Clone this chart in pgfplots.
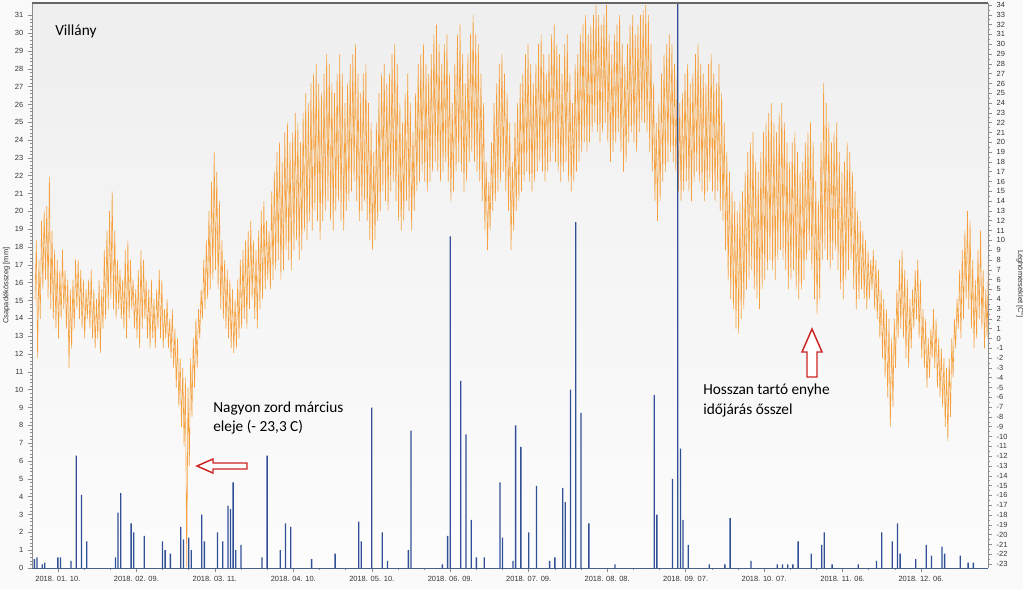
\documentclass[border=0pt]{standalone}
\usepackage{pgfplots}
\pgfplotsset{compat=1.18}
\usepackage{pgfplotstable}
\usepackage{fontspec}
\setmainfont{Liberation Sans}
\newfontfamily\annfont{Carlito}
\definecolor{tempc}{RGB}{245,160,60}
\definecolor{rainc}{RGB}{50,80,150}
\definecolor{axc}{RGB}{140,140,140}
\definecolor{arrc}{RGB}{205,35,35}

% air temperature: daily minimum and maximum, alternating (lo, hi) for days 0..364
\pgfplotstableread[row sep=\\]{t\\
4\\10\\ -2\\8\\ 2\\12\\ 5\\13\\ 6\\13.5\\ 4\\16.5\\ 3\\11\\ 2\\9\\ 1\\8\\ 0\\7\\
2\\9\\ 3\\7\\ 1\\6\\ -3\\5\\ -1\\6\\ 1\\8\\ 3\\8\\ 2\\7\\ 1\\6\\ 0\\5\\
2\\6\\ 1\\7\\ 0\\5\\ -1\\4\\ 0\\6\\ -1.5\\5\\ 1\\9\\ 2\\11\\ 3\\13\\ 4\\15\\
3\\11\\ 2\\8\\ 3\\7\\ 2\\6\\ 1\\9\\ 0\\10\\ 2\\8\\ 3\\6\\ 1\\5\\ 0\\7\\
-1\\9\\ 1\\8\\ 2\\6\\ 0\\5\\ -1\\6\\ 0\\4\\ -1\\5\\ 1\\7\\ 0\\6\\ -1\\3\\
0\\4\\ -1\\2\\ -2\\3\\ -3\\1\\ -5\\0\\ -7\\-2\\ -9\\-3\\ -11\\-4\\ -23.3\\-5\\ -13\\-2\\
-8\\0\\ -5\\2\\ -3\\3\\ 0\\5\\ 2\\8\\ 3\\10\\ 4\\13\\ 5\\16\\ 6\\19\\ 7\\17\\
5\\14\\ 3\\10\\ 2\\8\\ 1\\7\\ 0\\6\\ -1\\5\\ -1.5\\4\\ -1\\6\\ 0\\8\\ 1\\9\\
2\\10\\ 1\\11\\ 3\\12\\ 4\\10\\ 2\\9\\ 1\\11\\ 3\\13\\ 4\\14\\ 5\\12\\ 6\\11\\
5\\15\\ 6\\17\\ 7\\19\\ 8\\20\\ 6\\18\\ 7\\21\\ 9\\22\\ 8\\20\\ 7\\21\\ 9\\23\\
10\\22\\ 8\\20\\ 9\\23\\ 11\\25\\ 10\\24\\ 12\\26\\ 11\\27\\ 13\\28\\ 12\\26\\ 10\\25\\
12\\27\\ 13\\29\\ 14\\28\\ 12\\26\\ 11\\25\\ 13\\27\\ 14\\29\\ 12\\27\\ 11\\24\\ 13\\26\\
14\\28\\ 15\\29\\ 16\\30\\ 14\\27\\ 12\\25\\ 13\\27\\ 14\\28\\ 12\\24\\ 10\\22\\ 9\\19\\
10\\22\\ 12\\25\\ 13\\27\\ 15\\28\\ 14\\26\\ 13\\27\\ 15\\29\\ 16\\30\\ 14\\28\\ 12\\24\\
11\\22\\ 12\\25\\ 14\\27\\ 13\\24\\ 11\\21\\ 13\\25\\ 15\\28\\ 16\\29\\ 17\\30\\ 16\\28\\
15\\27\\ 16\\29\\ 17\\31\\ 18\\32\\ 17\\30\\ 16\\28\\ 17\\30\\ 18\\31\\ 16\\27\\ 14\\24\\
15\\28\\ 17\\31\\ 18\\32\\ 17\\29\\ 15\\26\\ 16\\29\\ 18\\31\\ 19\\33\\ 18\\31\\ 17\\30\\
16\\27\\ 14\\24\\ 11\\18\\ 9\\16\\ 11\\20\\ 13\\24\\ 14\\26\\ 15\\28\\ 16\\29\\ 17\\27\\
15\\25\\ 13\\22\\ 9\\18\\ 11\\22\\ 13\\24\\ 14\\26\\ 15\\27\\ 16\\29\\ 17\\30\\ 16\\28\\
15\\26\\ 16\\28\\ 17\\30\\ 18\\31\\ 17\\29\\ 16\\27\\ 17\\29\\ 18\\31\\ 19\\32\\ 18\\30\\
17\\29\\ 16\\27\\ 17\\30\\ 18\\31\\ 16\\27\\ 15\\24\\ 16\\28\\ 17\\29\\ 18\\31\\ 19\\32\\
20\\33\\ 19\\31\\ 20\\32\\ 21\\33\\ 22\\34\\ 21\\33\\ 20\\32\\ 21\\33\\ 22\\34\\ 20\\31\\
18\\29\\ 19\\31\\ 20\\32\\ 21\\33\\ 19\\30\\ 17\\28\\ 18\\30\\ 20\\32\\ 21\\33\\ 20\\31\\
19\\32\\ 21\\33\\ 22\\33.5\\ 22\\34\\ 21\\33\\ 19\\30\\ 17\\26\\ 14\\22\\ 12\\24\\ 14\\27\\
16\\29\\ 17\\30\\ 18\\31\\ 19\\30\\ 18\\28\\ 17\\27\\ 15\\24\\ 14\\25\\ 15\\27\\ 16\\28\\
15\\26\\ 14\\27\\ 16\\29\\ 17\\30\\ 16\\28\\ 15\\27\\ 14\\26\\ 15\\28\\ 16\\29\\ 15\\27\\
14\\26\\ 15\\28\\ 13\\25\\ 12\\22\\ 9\\19\\ 6\\17\\ 4\\15\\ 3\\14\\ 1\\13\\ 0.5\\14\\
2\\15\\ 3\\17\\ 5\\19\\ 6\\20\\ 7\\21\\ 5\\18\\ 4\\17\\ 3\\19\\ 5\\21\\ 6\\22\\
7\\23\\ 8\\24\\ 7\\22\\ 6\\21\\ 8\\23\\ 9\\24\\ 8\\22\\ 7\\20\\ 5\\18\\ 6\\20\\
7\\21\\ 5\\19\\ 4\\17\\ 5\\18\\ 6\\20\\ 8\\21\\ 9\\22\\ 7\\20\\ 4\\16\\ 2.5\\14\\
4\\20\\ 8\\26\\ 9\\24\\ 8\\22\\ 7\\20\\ 8\\21\\ 9\\22\\ 7\\19\\ 5\\17\\ 4\\18\\
6\\20\\ 7\\19\\ 8\\17\\ 5\\15\\ 3\\13\\ 4\\12\\ 5\\11\\ 4\\10\\ 3\\9\\ 4\\8\\
5\\9\\ 3\\8\\ 2\\7\\ 0\\5\\ -2\\4\\ -4\\3\\ -6\\2\\ -9\\0\\ -7\\2\\ -3\\5\\
0\\8\\ 1\\9\\ 0\\7\\ -2\\6\\ -3\\4\\ -1\\5\\ 1\\7\\ 2\\8\\ 0\\6\\ -2\\3\\
-3\\2\\ -5\\0\\ -4\\1\\ -2\\3\\ -3\\2\\ -5\\0\\ -6\\-1\\ -7\\-2\\ -9\\-3\\ -10.5\\-2\\
-8\\0\\ -4\\2\\ -1\\4\\ 1\\7\\ 0\\9\\ 2\\11\\ 4\\13\\ 3\\12\\ 1\\8\\ -1\\6\\
0\\9\\ 2\\11\\ 1\\7\\ -1\\5\\ 0\\8\\
}\temps

% daily precipitation sums [mm] (days with rain only)
\pgfplotstableread{
d p
0 0.5
1 0.6
3 0.2
4 0.3
9 0.6
10 0.6
14 0.4
16 6.3
18 4.1
20 1.5
31 0.6
32 3.1
33 4.2
37 2.5
38 2.0
42 1.8
49 1.5
50 1.0
52 0.8
56 2.3
57 1.6
59 1.7
60 1.0
64 3.0
65 1.5
70 2.0
72 1.5
74 3.5
75 3.3
76 4.8
77 1.0
79 1.3
87 0.6
89 6.3
94 1.0
96 2.5
98 2.3
106 0.5
115 0.8
124 2.6
125 1.5
129 9.0
133 2.0
135 0.4
143 1.0
144 7.7
156 0.2
158 1.8
159 18.6
163 10.5
165 7.5
167 2.7
169 0.6
172 0.6
178 4.8
179 1.7
183 0.4
184 8.0
186 6.8
189 2.0
192 4.6
197 0.4
199 0.6
202 4.5
203 3.7
205 10.0
207 19.4
209 8.7
212 2.5
222 0.2
237 9.7
238 3.0
244 5.0
246 32
247 6.7
248 2.7
250 1.3
258 0.2
264 0.2
266 2.8
274 0.4
284 0.2
286 0.2
288 0.2
290 0.2
292 1.5
297 0.8
301 1.3
302 2.0
305 0.2
315 0.2
322 0.4
324 2.0
328 1.5
330 2.5
331 0.8
337 0.5
341 1.3
343 0.7
347 1.2
348 0.8
354 0.7
357 0.3
359 0.3
}\rain

\pgfplotsset{
  common/.style={
    at={(0,0)}, anchor=south west,
    scale only axis, width=717pt, height=423.75pt,
    xmin=-0.9, xmax=364.6,
    tick align=outside,
    major tick length=3pt, minor tick length=1.5pt,
    tick style={axc, line width=0.4pt},
    axis line style={axc, line width=0.6pt},
    every tick label/.append style={font=\fontsize{5.6}{6}\selectfont, text=black!80},
    label style={font=\fontsize{5.6}{6}\selectfont, text=black!80},
    /pgf/number format/assume math mode=true,
  }
}

\begin{document}
\begin{tikzpicture}
\path[use as bounding box, fill=gray!4] (-24pt,-15.75pt) rectangle (743.25pt,426pt);

% temperature axis (right)
\begin{axis}[common,
  ymin=-23.4, ymax=34.2,
  axis x line=none,
  axis y line*=right,
  ytick={-23,...,34},
  minor y tick num=1,
  ylabel={Léghőmérséklet [C°]},
  ylabel style={rotate=180, xshift=-1pt},
  axis background/.style={shade, top color=gray!13, bottom color=gray!2},
]
\addplot[tempc, line width=0.45pt] table[x expr=\coordindex/2+0.25, y=t] {\temps};
\end{axis}

% precipitation axis (left)
\begin{axis}[common,
  ymin=0, ymax=31.69,
  axis y line*=left,
  axis x line*=bottom,
  ytick={0,...,31},
  minor y tick num=4,
  xtick={9,39,69,99,129,159,189,219,249,279,309,339},
  xticklabels={2018. 01. 10.,2018. 02. 09.,2018. 03. 11.,2018. 04. 10.,2018. 05. 10.,2018. 06. 09.,2018. 07. 09.,2018. 08. 08.,2018. 09. 07.,2018. 10. 07.,2018. 11. 06.,2018. 12. 06.},
  minor x tick num=2,
  ylabel={Csapadékösszeg [mm]},
  ylabel style={yshift=-3pt},
  x axis line style={rainc!70!gray},
]
\addplot[ybar, bar width=0.5, fill=rainc, draw=none] table[x=d, y=p] {\rain};
\end{axis}

\draw[black!60, line width=1pt] (0,423.75pt) -- (717pt,423.75pt);

% annotations
\node[anchor=base west, inner sep=0, font=\annfont\fontsize{11.5}{14}\selectfont] at (17.25pt,399pt) {Villány};
\node[anchor=base west, inner sep=0, font=\annfont\fontsize{11.5}{14}\selectfont] at (135.75pt,116.8pt) {Nagyon zord március};
\node[anchor=base west, inner sep=0, font=\annfont\fontsize{11.5}{14}\selectfont] at (135.75pt,102.2pt) {eleje (- 23,3 C)};
\node[anchor=base west, inner sep=0, font=\annfont\fontsize{11.5}{14}\selectfont] at (503.25pt,129.75pt) {Hosszan tartó enyhe};
\node[anchor=base west, inner sep=0, font=\annfont\fontsize{11.5}{14}\selectfont] at (503.25pt,114.75pt) {időjárás ősszel};

\draw[arrc, line width=1.1pt, fill=white, line join=miter]
  (123.75pt,76.5pt) -- (135.75pt,81.75pt) -- (135.75pt,78.75pt) -- (161.25pt,78.75pt)
  -- (161.25pt,74.25pt) -- (135.75pt,74.25pt) -- (135.75pt,71.25pt) -- cycle;
\draw[arrc, line width=1.1pt, fill=white, line join=miter]
  (585pt,179.25pt) -- (592.5pt,162pt) -- (588.75pt,162pt) -- (588.75pt,143.25pt)
  -- (581.25pt,143.25pt) -- (581.25pt,162pt) -- (577.5pt,162pt) -- cycle;
\end{tikzpicture}
\end{document}
